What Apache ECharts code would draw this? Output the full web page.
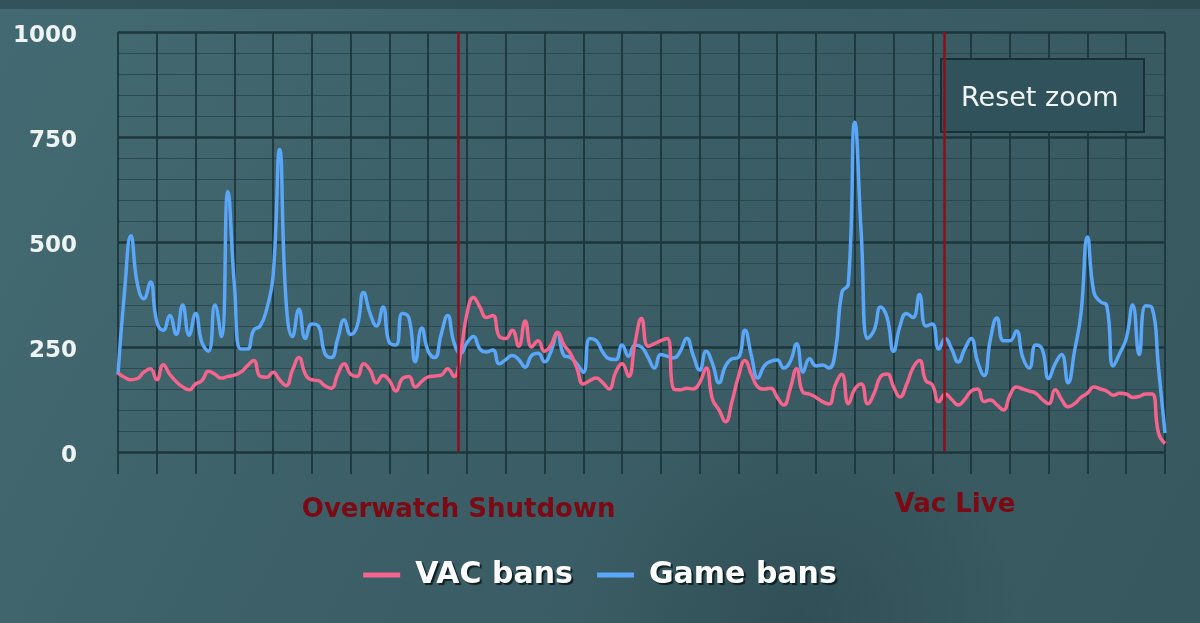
<!DOCTYPE html>
<html>
<head>
<meta charset="utf-8">
<script src="https://cdn.jsdelivr.net/npm/echarts@6/dist/echarts.min.js"></script>
<style>
html,body{margin:0;padding:0;background:#3d5f67;}
#chart{width:1200px;height:623px;}
</style>
</head>
<body>
<div id="chart"></div>
<script>
// Series values (one point per sample, 6 samples between vertical grid lines)
const vacBans = [
188,178,172,175,190,198,172,208,185,168,155,148,162,170,192,185,176,180,183,190,
205,218,180,178,190,172,158,195,225,185,172,170,158,152,185,210,185,180,210,195,
165,182,170,145,175,180,155,168,179,181,183,198,180,235,330,368,345,320,325,275,
270,290,252,312,250,265,240,255,285,255,235,200,162,170,176,165,150,190,210,180,
260,318,252,258,265,270,150,148,152,150,165,200,125,100,72,120,180,218,185,155,
150,152,130,112,150,198,142,138,130,120,114,160,185,115,150,162,115,140,180,186,
155,131,160,200,218,170,160,120,138,125,112,125,145,150,120,124,112,100,135,155,
150,145,140,125,115,148,125,108,115,130,140,155,150,145,135,140,138,130,132,138,
138,45,20
];
const gameBans = [
185,380,515,400,365,405,310,290,325,280,350,278,330,260,240,350,275,620,400,245,
245,290,300,340,420,720,360,275,340,270,305,300,235,225,270,315,280,300,380,330,
300,345,260,255,330,320,215,295,240,225,280,325,260,235,260,275,245,238,243,210,
220,230,220,202,230,235,215,240,283,230,225,210,190,270,265,238,222,220,255,228,
255,250,226,200,232,228,224,240,271,230,195,240,210,165,205,222,225,290,230,176,
205,216,219,200,215,258,190,222,205,207,200,240,380,400,785,520,270,290,345,320,
240,300,330,320,375,300,305,245,270,245,214,245,270,215,182,270,319,265,265,288,
225,200,255,245,175,210,232,165,240,330,512,380,358,348,205,235,270,350,232,348,
343,200,45
];
const seriesNames = ['VAC bans', 'Game bans'];
const yTicks = [0, 250, 500, 750, 1000];
const events = [
  { name: 'Overwatch Shutdown', at: 52.7 },
  { name: 'Vac Live', at: 127.8 }
];

const chart = echarts.init(document.getElementById('chart'));
const gridColor = '#1c363c';
const option = {
  animation: false,
  backgroundColor: {
    type: 'linear', x: 0, y: 0, x2: 1, y2: 1,
    colorStops: [
      { offset: 0, color: '#436a72' },
      { offset: 0.5, color: '#3b5d65' },
      { offset: 1, color: '#38585f' }
    ]
  },
  graphic: [
    { type: 'rect', left: 0, top: 0, silent: true, z: -10,
      shape: { width: 1200, height: 9 }, style: { fill: 'rgba(30,55,62,0.45)' } },
    { type: 'circle', silent: true, z: -10,
      shape: { cx: 800, cy: 620, r: 220 },
      style: { fill: {
        type: 'radial', x: 0.5, y: 0.5, r: 0.5,
        colorStops: [
          { offset: 0, color: 'rgba(25,48,54,0.28)' },
          { offset: 1, color: 'rgba(25,48,54,0)' }
        ] } } },
    { type: 'rect', left: 940, top: 58, z: 1, silent: true,
      shape: { width: 203, height: 73 },
      style: { fill: '#30525a', stroke: '#1a3036', lineWidth: 2 } },
    { type: 'text', left: 961, top: 85, z: 101, silent: true,
      style: { text: 'Reset zoom', fill: '#f2f5f6', fontSize: 27, fontFamily: 'DejaVu Sans' } }
  ],
  legend: {
    data: seriesNames,
    left: 'center',
    top: 555,
    icon: 'rect',
    itemWidth: 37,
    itemHeight: 5,
    itemGap: 24,
    textStyle: {
      color: '#ffffff', fontSize: 30, fontFamily: 'DejaVu Sans', fontWeight: 'bold',
      padding: [0, 0, 0, 10],
      textShadowColor: 'rgba(10,25,28,0.9)', textShadowOffsetX: 2, textShadowOffsetY: 2, textShadowBlur: 1
    }
  },
  grid: { left: 118, right: 35, top: 32, bottom: 171, containLabel: false },
  xAxis: {
    type: 'value', min: 0, max: vacBans.length - 1, interval: 6,
    axisLine: { show: false },
    axisLabel: { show: false },
    axisTick: { show: true, length: 22, lineStyle: { color: gridColor, width: 1.8 } },
    splitLine: { show: true, lineStyle: { color: gridColor, width: 1.8 } }
  },
  yAxis: {
    type: 'value', min: yTicks[0], max: yTicks[yTicks.length - 1], interval: 250,
    axisLine: { show: false },
    axisTick: { show: false },
    axisLabel: {
      color: '#eef3f4', fontSize: 23, fontFamily: 'DejaVu Sans', fontWeight: 'bold', margin: 41,
      formatter: v => String(v),
      verticalAlign: 'top', lineHeight: 8,
      textShadowColor: 'rgba(10,25,28,0.7)', textShadowOffsetX: 1, textShadowOffsetY: 1
    },
    splitLine: { show: true, lineStyle: { color: gridColor, width: 2.5 } },
    minorTick: { show: false, splitNumber: 5 },
    minorSplitLine: { show: true, lineStyle: { color: '#2b4a51', width: 1 } }
  },
  series: [
    {
      name: seriesNames[0], type: 'line', smooth: 0.5, showSymbol: false, symbol: 'none',
      data: vacBans.map((v, i) => [i, v]),
      lineStyle: { color: '#f5648c', width: 3.5 }, itemStyle: { color: '#f5648c' },
      z: 3,
      markLine: {
        silent: true, symbol: 'none', animation: false,
        lineStyle: { color: '#8c0f1e', width: 2.5, type: 'solid' },
        data: [
          { xAxis: events[0].at, label: { formatter: events[0].name, distance: 45 } },
          { xAxis: events[1].at, label: { formatter: events[1].name, distance: 40, padding: [0, 0, 0, 22] } }
        ],
        label: {
          show: true, position: 'start', color: '#7c0a14', fontSize: 26,
          fontFamily: 'DejaVu Sans', fontWeight: 'bold'
        }
      }
    },
    {
      name: seriesNames[1], type: 'line', smooth: 0.5, showSymbol: false, symbol: 'none',
      data: gameBans.map((v, i) => [i, v]),
      lineStyle: { color: '#5aa6f8', width: 3.5 }, itemStyle: { color: '#5aa6f8' },
      z: 2
    }
  ]
};
chart.setOption(option);
</script>
</body>
</html>
